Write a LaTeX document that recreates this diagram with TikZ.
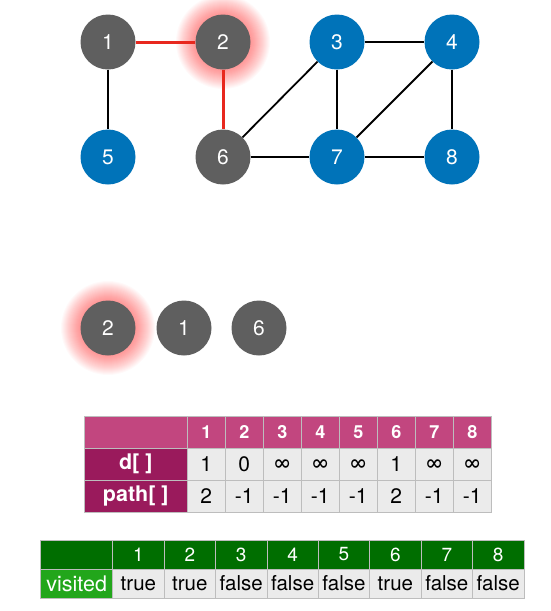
\documentclass[tikz,border=0pt]{standalone}
\usepackage{fontspec}
\setmainfont{TeX Gyre Heros}
\definecolor{nodegray}{HTML}{5F5F5F}
\definecolor{nodeblue}{HTML}{0073B9}
\definecolor{edgered}{HTML}{E8281E}
\definecolor{pinkhead}{HTML}{C2467F}
\definecolor{pinkside}{HTML}{9A1A5C}
\definecolor{cellgray}{HTML}{EBEBEB}
\definecolor{cellline}{HTML}{BDBDBD}
\definecolor{greenhead}{HTML}{006E00}
\definecolor{greenside}{HTML}{22A61B}
\begin{document}
\begin{tikzpicture}[x=1pt,y=-1pt,
  vtx/.style={circle,minimum size=55pt,inner sep=0pt,text=white,font=\fontsize{21}{24}\selectfont},
  gnode/.style={vtx,fill=nodegray},
  bnode/.style={vtx,fill=nodeblue},
  edge/.style={line width=1.8pt,black},
  redge/.style={line width=3pt,edgered},
  cellbase/.style={rectangle,draw=cellline,line width=0.8pt,inner sep=0pt,anchor=center},
  hdA/.style={cellbase,fill=pinkhead,text=white,font=\bfseries\fontsize{18}{20}\selectfont,minimum width=38pt,minimum height=32pt},
  sideA/.style={cellbase,fill=pinkside,text=white,font=\bfseries\fontsize{21.5}{23}\selectfont,minimum width=103pt,minimum height=32pt},
  bodyA/.style={cellbase,fill=cellgray,text=black,font=\fontsize{21}{23}\selectfont,minimum width=38pt,minimum height=32pt},
  hdB/.style={cellbase,fill=greenhead,text=white,font=\fontsize{19}{21}\selectfont,minimum width=51.4pt,minimum height=29pt},
  sideB/.style={cellbase,fill=greenside,text=white,font=\fontsize{21.5}{23}\selectfont,minimum width=72pt,minimum height=29pt},
  bodyB/.style={cellbase,fill=cellgray,text=black,font=\fontsize{20.5}{22}\selectfont,minimum width=51.4pt,minimum height=29pt}
]
\useasboundingbox[fill=white] (0,0) rectangle (551,611);

% glows
\foreach \r in {28,29,...,47}{
  \fill[red,opacity=0.022] (223,42) circle (\r);
  \fill[red,opacity=0.022] (108,328) circle (\r);
}

% graph nodes
\node[gnode] (n1) at (108,42) {1};
\node[gnode] (n2) at (223,42) {2};
\node[bnode] (n3) at (337,42) {3};
\node[bnode] (n4) at (452,42) {4};
\node[bnode] (n5) at (108,157) {5};
\node[gnode] (n6) at (223,157) {6};
\node[bnode] (n7) at (337,157) {7};
\node[bnode] (n8) at (452,157) {8};

% edges
\draw[redge] (n1) -- (n2);
\draw[redge] (n2) -- (n6);
\draw[edge] (n1) -- (n5);
\draw[edge] (n3) -- (n4);
\draw[edge] (n3) -- (n6);
\draw[edge] (n3) -- (n7);
\draw[edge] (n4) -- (n7);
\draw[edge] (n4) -- (n8);
\draw[edge] (n6) -- (n7);
\draw[edge] (n7) -- (n8);

% queue
\node[gnode] (q1) at (108,328) {2};
\node[gnode] (q2) at (184,328) {1};
\node[gnode] (q3) at (259,328) {6};

% table 1
\node[sideA,fill=pinkhead] (t1c) at (135.8,432) {};
\node[sideA] (t1d) at (135.8,464.2) {d[ ]};
\node[sideA] (t1p) at (135.8,496.4) {path[ ]};
\foreach \v [count=\i] in {1,...,8}{
  \node[hdA] (t1h\i) at ({206.3+38*(\i-1)},432) {\v};
}
\foreach \v [count=\i] in {1,0,∞,∞,∞,1,∞,∞}{
  \node[bodyA] (t1d\i) at ({206.3+38*(\i-1)},464.2) {\v};
}
\foreach \v [count=\i] in {2,-1,-1,-1,-1,2,-1,-1}{
  \node[bodyA] (t1p\i) at ({206.3+38*(\i-1)},496.4) {\v};
}

% table 2
\node[sideB,fill=greenhead] (t2c) at (76.7,554.5) {};
\node[sideB] (t2v) at (76.7,583.5) {visited};
\foreach \v [count=\i] in {1,...,8}{
  \node[hdB] (t2h\i) at ({138.4+51.4*(\i-1)},554.5) {\v};
}
\foreach \v [count=\i] in {true,true,false,false,false,true,false,false}{
  \node[bodyB] (t2b\i) at ({138.4+51.4*(\i-1)},583.5) {\v};
}
\end{tikzpicture}
\end{document}
